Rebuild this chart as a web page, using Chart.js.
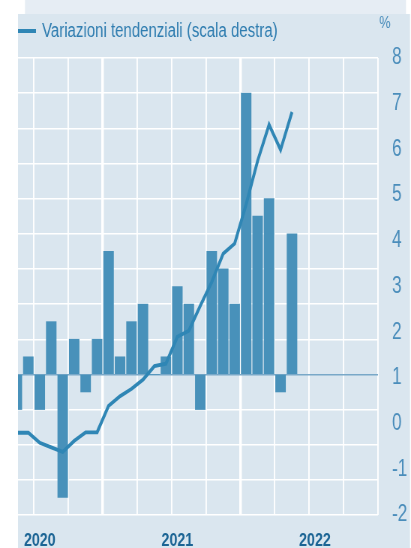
<!DOCTYPE html>
<html>
<head>
<meta charset="utf-8">
<script src="https://cdn.jsdelivr.net/npm/chart.js@4/dist/chart.umd.min.js"></script>
<style>
  html, body { margin: 0; padding: 0; background: #ffffff; overflow: hidden; }
  #c { display: block; width: 411px; height: 548px; }
</style>
</head>
<body>
<canvas id="c" width="548" height="548" style="width:411px;height:548px"></canvas>
<script>
// ---- data ----
const months = ['2020-05','2020-06','2020-07','2020-08','2020-09','2020-10','2020-11','2020-12',
                '2021-01','2021-02','2021-03','2021-04','2021-05','2021-06','2021-07','2021-08',
                '2021-09','2021-10','2021-11','2021-12','2022-01','2022-02','2022-03','2022-04','2022-05'];
// monthly changes (bars, left scale - not shown in the crop)
const monthlyChange = [-0.2, 0.1, -0.2, 0.3, -0.7, 0.2, -0.1, 0.2,
                       0.7, 0.1, 0.3, 0.4, 0.0, 0.1, 0.5, 0.4,
                       -0.2, 0.7, 0.6, 0.4, 1.6, 0.9, 1.0, -0.1, 0.8];
// year-on-year changes (line, right scale)
const yoyChange = [-0.2, -0.2, -0.42, -0.52, -0.62, -0.38, -0.19, -0.19,
                   0.39, 0.6, 0.76, 0.96, 1.26, 1.31, 1.9, 2.03,
                   2.58, 3.1, 3.72, 3.94, 4.8, 5.75, 6.54, 5.99, 6.82];
const yearLabels = ['2020', '2021', '2022'];
const rightTicks = [-2, -1, 0, 1, 2, 3, 4, 5, 6, 7, 8];
const lineLabel = 'Variazioni tendenziali (scala destra)';
const unitLabel = '%';

// month position on a linear axis: 0 = start of Jan 2020, centre of month = +0.5
const monthPos = months.map(m => {
  const [y, mo] = m.split('-').map(Number);
  return (y - 2020) * 12 + (mo - 1) + 0.5;
});
const yearPos = yearLabels.map(y => (Number(y) - 2020) * 12 + 6.5);

// the original is horizontally condensed: draw on a wider canvas shown at 411px
const S = 0.75;
const X = v => v / S;

const FONT = "'Liberation Sans', Arial, sans-serif";
const LINE_COLOR = '#2f86b5';
const BAR_COLOR = '#4891ba';

const bgPlugin = {
  id: 'bg',
  beforeDraw(chart) {
    const ctx = chart.ctx;
    ctx.save();
    ctx.fillStyle = '#ffffff';
    ctx.fillRect(0, 0, chart.width, chart.height);
    ctx.fillStyle = '#e6edf4';
    ctx.fillRect(X(25), 0, X(381), 14);
    ctx.fillStyle = '#dae6ef';
    ctx.fillRect(X(18), 14, X(392), chart.height - 14);
    ctx.restore();
  },
  afterDraw(chart) {
    const ctx = chart.ctx;
    ctx.save();
    // legend
    ctx.strokeStyle = LINE_COLOR;
    ctx.lineWidth = 4;
    ctx.beginPath();
    ctx.moveTo(X(18), 31);
    ctx.lineTo(X(36), 31);
    ctx.stroke();
    ctx.fillStyle = '#2f7db0';
    ctx.font = "20px " + FONT;
    ctx.textBaseline = 'middle';
    ctx.textAlign = 'left';
    ctx.fillText(lineLabel, X(42), 31);
    // unit
    ctx.fillStyle = '#4a8dbb';
    ctx.font = "17px " + FONT;
    ctx.textAlign = 'center';
    ctx.fillText(unitLabel, X(385), 23);
    ctx.restore();
  }
};

new Chart(document.getElementById('c'), {
  data: {
    datasets: [
      {
        type: 'line',
        label: lineLabel,
        data: monthPos.map((x, i) => ({ x, y: yoyChange[i] })),
        borderColor: LINE_COLOR,
        borderWidth: 3.8,
        pointRadius: 0,
        tension: 0,
        xAxisID: 'x',
        yAxisID: 'y2',
        order: 0
      },
      {
        type: 'bar',
        label: 'Variazioni congiunturali',
        data: monthPos.map((x, i) => ({ x, y: monthlyChange[i] })),
        backgroundColor: BAR_COLOR,
        borderWidth: 0,
        barThickness: X(10),
        xAxisID: 'x',
        yAxisID: 'y',
        order: 1
      }
    ]
  },
  options: {
    responsive: false,
    maintainAspectRatio: false,
    animation: false,
    devicePixelRatio: 1,
    layout: { padding: { left: X(18), top: 58, right: 0, bottom: 0 } },
    plugins: { legend: { display: false }, tooltip: { enabled: false } },
    scales: {
      x: {
        type: 'linear',
        position: 'bottom',
        offset: false,
        min: 4.6,
        max: 36,
        afterBuildTicks(scale) {
          const t = [];
          for (let v = 6; v <= 36; v += 3) t.push({ value: v });
          scale.ticks = t;
        },
        ticks: { display: false },
        border: { display: false },
        grid: {
          offset: false,
          color: '#ffffff',
          drawTicks: false,
          lineWidth: c => (c.tick && (c.tick.value === 12 || c.tick.value === 24)) ? X(2.6) : X(1.4)
        },
        afterFit(scale) { scale.height = 0; }
      },
      x2: {
        type: 'linear',
        position: 'bottom',
        offset: false,
        min: 4.6,
        max: 36,
        afterBuildTicks(scale) {
          scale.ticks = yearPos.map(v => ({ value: v }));
        },
        ticks: {
          autoSkip: false,
          maxRotation: 0,
          padding: 14,
          color: '#1b6494',
          font: { family: FONT, size: 19, weight: 'bold' },
          callback: v => yearLabels[yearPos.indexOf(v)]
        },
        border: { display: false },
        grid: { display: false, drawTicks: false, offset: false },
        afterFit(scale) { scale.height = 33; }
      },
      y: {
        type: 'linear',
        position: 'left',
        min: -0.8,
        max: 1.8,
        ticks: { display: false, stepSize: 0.2 },
        border: { display: false },
        grid: {
          drawTicks: false,
          color: c => (c.tick && Math.abs(c.tick.value) < 1e-9) ? '#79a8c8' : '#ffffff',
          lineWidth: 1.4
        },
        afterFit(scale) { scale.width = 0; }
      },
      y2: {
        type: 'linear',
        position: 'right',
        min: -2,
        max: 8,
        afterBuildTicks(scale) {
          scale.ticks = rightTicks.map(v => ({ value: v }));
        },
        ticks: {
          padding: X(14),
          color: '#4a8dbb',
          font: { family: FONT, size: 23 },
          callback: v => String(v)
        },
        border: { display: false },
        grid: { display: false, drawTicks: false },
        afterFit(scale) { scale.width = X(33); }
      }
    }
  },
  plugins: [bgPlugin]
});
</script>
</body>
</html>
